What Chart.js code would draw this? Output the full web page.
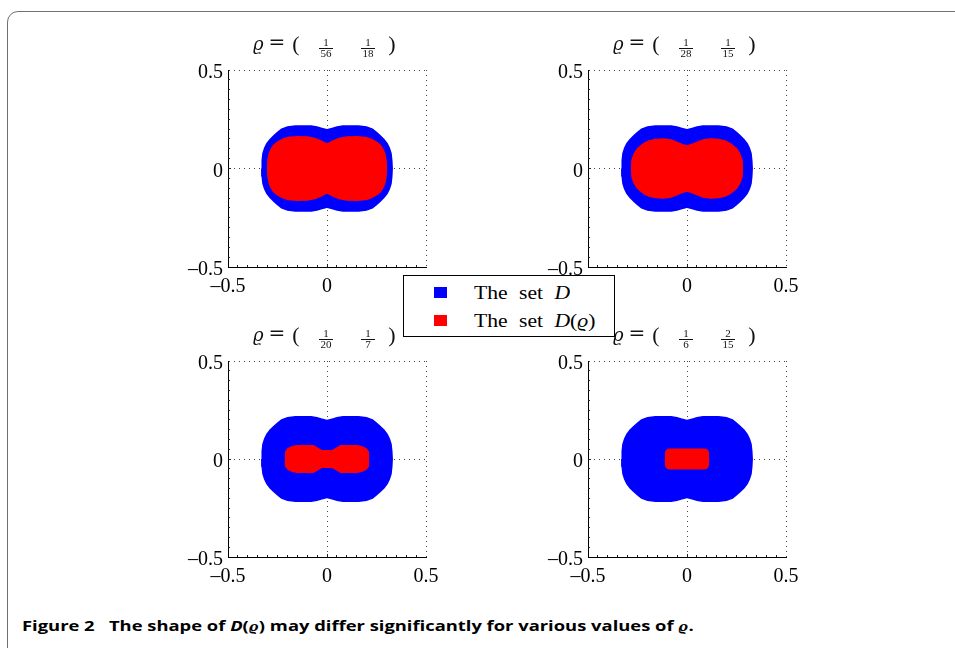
<!DOCTYPE html>
<html>
<head>
<meta charset="utf-8">
<script src="https://cdn.jsdelivr.net/npm/chart.js@4.4.0/dist/chart.umd.min.js"></script>
<style>
  body { margin: 0; background: #fff; width: 955px; height: 648px; overflow: hidden; position: relative; }
  .frame { position: absolute; left: 7px; top: 11px; width: 1000px; height: 660px; border: 1.5px solid #707070; border-radius: 11px; }
  canvas { position: absolute; }
  #legend { position: absolute; left: 403px; top: 275px; width: 210px; height: 60px; border: 1px solid #000; background: #fff; z-index: 5; font-family: "Liberation Serif"; font-size: 18px; color: #000; }
  #legend .sw { position: absolute; left: 30px; width: 13px; height: 11px; }
  #legend .tx { position: absolute; left: 70px; white-space: nowrap; word-spacing: 5px; line-height: 18px; transform: scaleX(1.2); transform-origin: 0 0; }
  #caption { position: absolute; left: 22px; top: 615px; font-family: "Open Sans"; font-weight: 700; font-size: 15px; color: #000; white-space: nowrap; transform: scaleX(1.225); transform-origin: 0 0; }
</style>
</head>
<body>
<div class="frame"></div>
<canvas id="p1" width="300" height="280" style="left:158px; top:25px"></canvas>
<canvas id="p2" width="300" height="280" style="left:518px; top:25px"></canvas>
<canvas id="p3" width="300" height="280" style="left:158px; top:316px"></canvas>
<canvas id="p4" width="300" height="280" style="left:518px; top:316px"></canvas>
<div id="legend">
  <div class="sw" style="top:11px; background:#0000ff"></div>
  <div class="tx" style="top:8px">The set <i>D</i></div>
  <div class="sw" style="top:39px; background:#ff0000"></div>
  <div class="tx" style="top:36px">The set <i>D</i>(<i>ϱ</i>)</div>
</div>
<div id="caption">Figure 2&nbsp;&nbsp;&nbsp;The shape of <i>D</i>(<i>ϱ</i>) may differ significantly for various values of <i>ϱ</i>.</div>
<script>
// upper boundary of the set D (same in every panel)
const dX = [-0.333, -0.331, -0.327, -0.318, -0.307, -0.29, -0.27, -0.25, -0.231, -0.2, -0.16, -0.12, -0.08, -0.05, -0.025, 0,
  0.025, 0.05, 0.08, 0.12, 0.16, 0.2, 0.231, 0.25, 0.27, 0.29, 0.307, 0.318, 0.327, 0.331, 0.333];
const dY = [0, 0.04, 0.077, 0.105, 0.128, 0.15, 0.17, 0.188, 0.203, 0.214, 0.219, 0.22, 0.219, 0.214, 0.207, 0.2,
  0.207, 0.214, 0.219, 0.22, 0.219, 0.214, 0.203, 0.188, 0.17, 0.15, 0.128, 0.105, 0.077, 0.04, 0];

// upper boundaries of D(rho), one per panel
const r1X = [-0.304, -0.302, -0.295, -0.285, -0.273, -0.255, -0.239, -0.22, -0.197, -0.15, -0.1, -0.06, -0.03, 0,
  0.03, 0.06, 0.1, 0.15, 0.197, 0.22, 0.239, 0.255, 0.273, 0.285, 0.295, 0.302, 0.304];
const r1Y = [0, 0.04, 0.077, 0.1, 0.119, 0.134, 0.145, 0.154, 0.161, 0.165, 0.164, 0.156, 0.143, 0.128,
  0.143, 0.156, 0.164, 0.165, 0.161, 0.154, 0.145, 0.134, 0.119, 0.1, 0.077, 0.04, 0];
const r2X = [-0.284, -0.281, -0.27, -0.255, -0.235, -0.215, -0.193, -0.16, -0.118, -0.08, -0.045, -0.02, 0,
  0.02, 0.045, 0.08, 0.118, 0.16, 0.193, 0.215, 0.235, 0.255, 0.27, 0.281, 0.284];
const r2Y = [0, 0.045, 0.076, 0.1, 0.118, 0.133, 0.144, 0.151, 0.153, 0.148, 0.135, 0.124, 0.118,
  0.124, 0.135, 0.148, 0.153, 0.151, 0.144, 0.133, 0.118, 0.1, 0.076, 0.045, 0];
const r3X = [-0.214, -0.213, -0.2, -0.177, -0.152, -0.068, -0.045, -0.025, 0, 0.025, 0.045, 0.068, 0.152, 0.177, 0.2, 0.213, 0.214];
const r3Y = [0, 0.037, 0.055, 0.066, 0.071, 0.071, 0.057, 0.046, 0.046, 0.046, 0.057, 0.071, 0.071, 0.066, 0.055, 0.037, 0];
const r4X = [-0.113, -0.112, -0.107, -0.097, -0.085, 0.085, 0.097, 0.107, 0.112, 0.113];
const r4Y = [0, 0.032, 0.045, 0.052, 0.054, 0.054, 0.052, 0.045, 0.032, 0];

// rho = ( num/den  num/den ) in each panel title
const rhoNum = [[1, 1], [1, 1], [1, 1], [1, 2]];
const rhoDen = [[56, 18], [28, 15], [20, 7], [6, 15]];

const tickVals = [-0.5, 0, 0.5];
const tickText = ['\u20130.5', '0', '0.5'];
const minorTicks = [-0.45, -0.4, -0.35, -0.3, -0.25, -0.2, -0.15, -0.1, -0.05, 0, 0.05, 0.1, 0.15, 0.2, 0.25, 0.3, 0.35, 0.4, 0.45];

const BLUE = '#0000ff';
const RED = '#ff0000';

Chart.defaults.font.family = '"Liberation Serif"';

function pts(xs, ys) {
  return xs.map((x, i) => ({ x: x, y: ys[i] }));
}

// top half on y, bottom half on the reversed axis, filled between them
function half(xs, ys, axis, color, fill, order) {
  return {
    data: pts(xs, ys), yAxisID: axis,
    backgroundColor: color, borderColor: 'rgba(0,0,0,0)', borderWidth: 0,
    pointRadius: 0, tension: 0, fill: fill, order: order
  };
}

const rhoTitle = {
  id: 'rhoTitle',
  afterDraw(chart, args, opts) {
    const ctx = chart.ctx;
    const a = chart.chartArea;
    const cx = (a.left + a.right) / 2;
    const top = a.top;
    ctx.save();
    ctx.fillStyle = '#111';
    ctx.textBaseline = 'alphabetic';
    ctx.textAlign = 'left';
    ctx.font = 'italic 18px "DejaVu Serif"';
    ctx.fillText('ϱ', cx - 74, top - 20);
    ctx.textAlign = 'center';
    ctx.font = '20px "DejaVu Serif"';
    ctx.fillText('=', cx - 50, top - 21);
    ctx.font = '22px "Liberation Serif"';
    ctx.fillText('(', cx - 31, top - 19);
    ctx.fillText(')', cx + 65, top - 19);
    ctx.font = '11px "Liberation Serif"';
    [cx - 1, cx + 41].forEach((fx, k) => {
      ctx.fillText(String(opts.num[k]), fx, top - 24);
      ctx.fillText(String(opts.den[k]), fx, top - 13);
      ctx.fillRect(Math.round(fx - 7), top - 22, 14, 1);
    });
    ctx.restore();
  }
};

const inwardTicks = {
  id: 'inwardTicks',
  afterDraw(chart) {
    const ctx = chart.ctx;
    const a = chart.chartArea;
    const sx = chart.scales.x, sy = chart.scales.y;
    ctx.save();
    ctx.strokeStyle = '#222';
    ctx.lineWidth = 1;
    ctx.beginPath();
    minorTicks.forEach(v => {
      const len = v === 0 ? 3 : 2;
      const px = Math.round(sx.getPixelForValue(v) - 0.5) + 0.5;
      ctx.moveTo(px, a.bottom);
      ctx.lineTo(px, a.bottom - len);
      const py = Math.round(sy.getPixelForValue(v) - 0.5) + 0.5;
      ctx.moveTo(a.left, py);
      ctx.lineTo(a.left + len, py);
    });
    ctx.stroke();
    ctx.restore();
  }
};

function axis(extra, tickExtra) {
  return Object.assign({
    type: 'linear', min: -0.5, max: 0.5,
    afterBuildTicks: s => { s.ticks = tickVals.map(v => ({ value: v })); },
    ticks: Object.assign({ callback: (v, i) => tickText[i], color: '#000', font: { size: 20 }, maxRotation: 0, autoSkip: false }, tickExtra),
    grid: {
      color: c => (c.tick && c.tick.value === -0.5) ? 'rgba(0,0,0,0)' : '#444',
      lineWidth: 1, drawTicks: false
    },
    border: { color: '#000', width: 1, dash: [1, 4] }
  }, extra);
}

function makePanel(id, rX, rY, k, bottomPad) {
  new Chart(document.getElementById(id), {
    type: 'line',
    data: {
      datasets: [
        half(dX, dY, 'y', BLUE, '+1', 2),
        half(dX, dY, 'yFlip', BLUE, false, 2),
        half(rX, rY, 'y', RED, '+1', 1),
        half(rX, rY, 'yFlip', RED, false, 1)
      ]
    },
    options: {
      responsive: false,
      animation: false,
      events: [],
      layout: { padding: { top: 45, right: 32, bottom: bottomPad, left: 0 } },
      scales: {
        x: axis({ afterFit: s => { s.height = 30; } }, { padding: 8 }),
        y: axis({ afterFit: s => { s.width = 70; } }, { padding: 5, labelOffset: 3 }),
        yFlip: { type: 'linear', display: false, reverse: true, min: -0.5, max: 0.5 }
      },
      plugins: {
        legend: { display: false },
        tooltip: { enabled: false },
        rhoTitle: { num: rhoNum[k], den: rhoDen[k] }
      }
    },
    plugins: [rhoTitle, inwardTicks]
  });
}

makePanel('p1', r1X, r1Y, 0, 8);
makePanel('p2', r2X, r2Y, 1, 8);
makePanel('p3', r3X, r3Y, 2, 9);
makePanel('p4', r4X, r4Y, 3, 9);
</script>
</body>
</html>
